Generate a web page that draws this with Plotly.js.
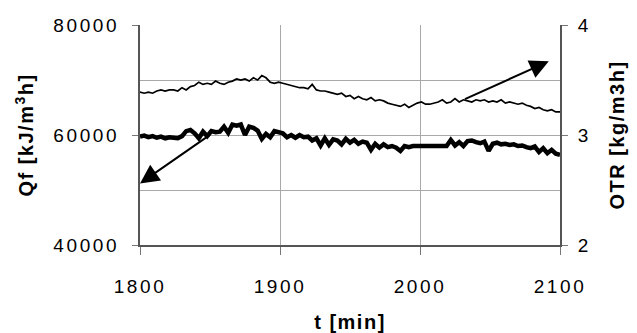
<!DOCTYPE html>
<html>
<head>
<meta charset="utf-8">
<script src="https://cdn.plot.ly/plotly-3.0.1.min.js"></script>
<style>
html,body{margin:0;padding:0;background:#fff;}
.xtick text, .ytick text, .y2tick text { letter-spacing: 2.6px; }
.xtitle, .ytitle, .y2title { letter-spacing: 1.5px; }
</style>
</head>
<body>
<div id="chart" style="width:637px;height:333px;"></div>
<script>
// time axis (min)
const tMin = [
1800,1803,1806,1809,1812,1815,1818,1821,1824,1827,
1830,1833,1836,1839,1842,1845,1848,1851,1854,1857,
1860,1863,1866,1869,1872,1875,1878,1881,1884,1887,
1890,1893,1896,1899,1902,1905,1908,1911,1914,1917,
1920,1923,1926,1929,1932,1935,1938,1941,1944,1947,
1950,1953,1956,1959,1962,1965,1968,1971,1974,1977,
1980,1983,1986,1989,1992,1995,1998,2001,2004,2007,
2010,2013,2016,2019,2022,2025,2028,2031,2034,2037,
2040,2043,2046,2049,2052,2055,2058,2061,2064,2067,
2070,2073,2076,2079,2082,2085,2088,2091,2094,2097,2100];

// Qf [kJ/m3h] (left axis, thick line)
const qf = [
59700,59900,59600,59800,59500,59700,59400,59600,59500,59400,
59800,60700,60900,60300,59400,60600,59800,60700,60500,60600,
61500,60400,61900,61700,61900,60000,61500,61300,60800,59300,
60200,59600,60700,60600,60300,59600,60000,59500,60000,59600,
59700,59000,59400,58100,59400,58200,59200,59000,58300,59300,
58600,59100,58400,58800,58600,57300,58400,57700,58300,57800,
58000,57700,57100,58000,57800,58000,58000,58000,58000,58000,
58000,58000,58000,58000,59100,58100,58700,58000,58900,59000,
58700,58500,58800,57100,58400,58600,58300,58400,58200,58300,
58000,58100,57800,57600,57900,56900,57600,56700,57300,56600,56400];

// OTR [kg/m3h] (right axis, thin line)
const otr = [
3.39,3.38,3.39,3.38,3.40,3.41,3.40,3.41,3.41,3.40,
3.43,3.41,3.44,3.45,3.48,3.46,3.47,3.46,3.49,3.47,
3.46,3.48,3.49,3.51,3.50,3.51,3.49,3.52,3.50,3.54,
3.52,3.48,3.47,3.48,3.47,3.46,3.45,3.44,3.43,3.43,
3.42,3.46,3.41,3.40,3.40,3.39,3.38,3.37,3.38,3.35,
3.36,3.33,3.35,3.33,3.32,3.34,3.31,3.32,3.31,3.29,
3.28,3.27,3.26,3.28,3.25,3.27,3.29,3.30,3.28,3.28,
3.29,3.30,3.32,3.29,3.30,3.33,3.30,3.32,3.31,3.30,
3.32,3.31,3.32,3.30,3.31,3.30,3.32,3.29,3.30,3.29,
3.28,3.29,3.27,3.26,3.24,3.25,3.23,3.22,3.23,3.21,3.21];

// arrow annotations: [tail t, tail value] -> [head t, head value]
const arrowQfTail = [1851, 60200];
const arrowQfHead = [1800, 51200];
const arrowOtrTail = [2031, 3.32];
const arrowOtrHead = [2092, 3.67];

const FONT = '"Liberation Sans", Arial, sans-serif';

const traces = [
  {x: tMin, y: qf, type: 'scatter', mode: 'lines', name: 'Qf',
   line: {color: '#000', width: 4.5}, yaxis: 'y'},
  {x: tMin, y: otr, type: 'scatter', mode: 'lines', name: 'OTR',
   line: {color: '#000', width: 1.7}, yaxis: 'y2'}
];

const layout = {
  width: 637, height: 333,
  margin: {l: 140, r: 77, t: 25, b: 88},
  paper_bgcolor: '#fff', plot_bgcolor: '#fff',
  showlegend: false,
  font: {family: FONT, size: 19, color: '#000'},
  xaxis: {
    range: [1800, 2100], dtick: 100, tick0: 1800,
    showgrid: true, gridcolor: '#a8a8a8', gridwidth: 1,
    showline: true, linecolor: '#555', linewidth: 2,
    ticks: 'outside', ticklen: 8, tickcolor: '#777', tickwidth: 1,
    ticklabelstandoff: 15,
    zeroline: false,
    title: {text: '<b>t [min]</b>', font: {size: 20}, standoff: 20}
  },
  yaxis: {
    range: [40000, 80000], dtick: 20000, tick0: 40000, tickformat: 'd',
    showgrid: true, gridcolor: '#a8a8a8', gridwidth: 1,
    minor: {dtick: 10000, showgrid: true, gridcolor: '#a8a8a8', gridwidth: 1},
    showline: true, linecolor: '#555', linewidth: 2,
    ticks: 'outside', ticklen: 6, tickcolor: '#777', tickwidth: 1,
    ticklabelstandoff: 9,
    zeroline: false,
    title: {text: '<b>Qf [kJ/m<sup>3</sup>h]</b>', font: {size: 20}, standoff: 14}
  },
  yaxis2: {
    range: [2, 4], dtick: 1, tick0: 2,
    overlaying: 'y', side: 'right',
    showgrid: false,
    showline: true, linecolor: '#555', linewidth: 2,
    ticks: 'outside', ticklen: 6, tickcolor: '#777', tickwidth: 1,
    ticklabelstandoff: 6,
    zeroline: false,
    title: {text: '<b>OTR [kg/m3h]</b>', font: {size: 20}, standoff: 20}
  },
  annotations: [
    {x: arrowQfHead[0], y: arrowQfHead[1], ax: arrowQfTail[0], ay: arrowQfTail[1],
     xref: 'x', yref: 'y', axref: 'x', ayref: 'y', text: '', showarrow: true,
     arrowhead: 2, arrowsize: 1.9, arrowwidth: 2, arrowcolor: '#000'},
    {x: arrowOtrHead[0], y: arrowOtrHead[1], ax: arrowOtrTail[0], ay: arrowOtrTail[1],
     xref: 'x', yref: 'y2', axref: 'x', ayref: 'y2', text: '', showarrow: true,
     arrowhead: 2, arrowsize: 1.9, arrowwidth: 2, arrowcolor: '#000'}
  ]
};

Plotly.newPlot('chart', traces, layout, {staticPlot: true, displayModeBar: false});
</script>
</body>
</html>
